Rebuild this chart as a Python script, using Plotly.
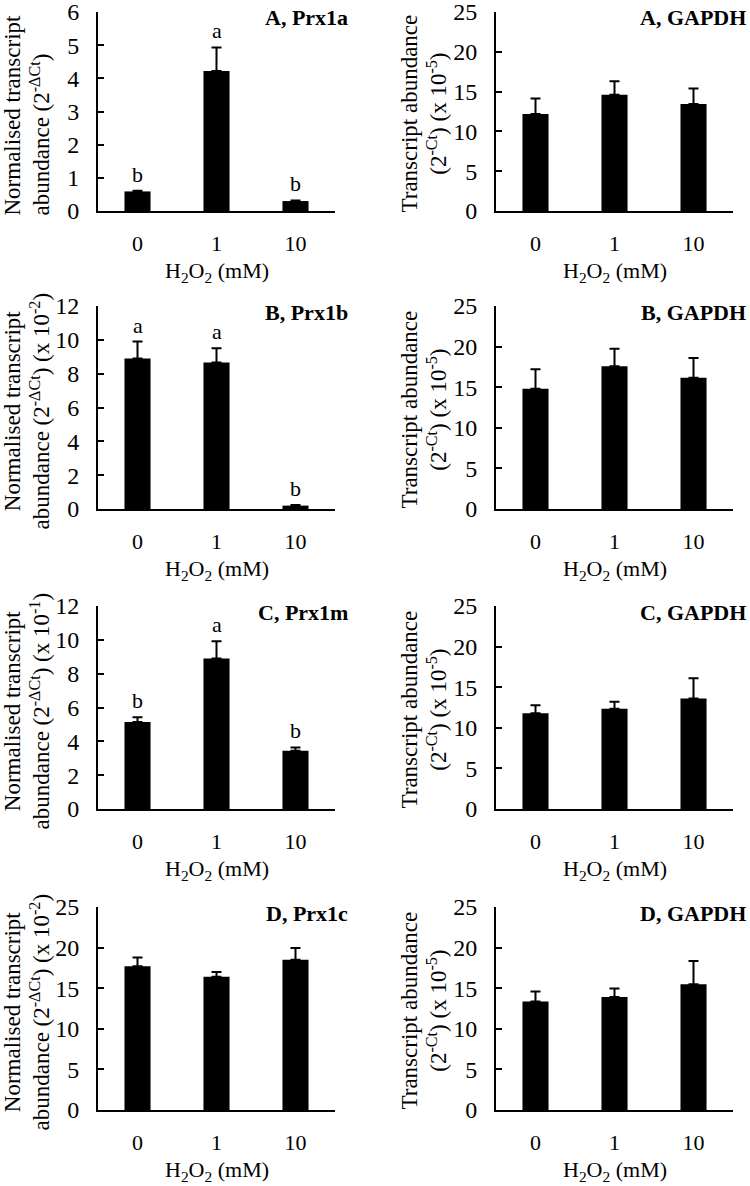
import plotly.graph_objects as go

# ---------------- data ----------------
categories = ["0", "1", "10"]

prx1a_mean = [0.59, 4.22, 0.30]
prx1a_err = [0.02, 0.71, 0.02]
prx1a_sig = ["b", "a", "b"]

gapdh_a_mean = [12.2, 14.6, 13.45]
gapdh_a_err = [1.93, 1.70, 1.94]

prx1b_mean = [8.90, 8.66, 0.20]
prx1b_err = [1.00, 0.84, 0.03]
prx1b_sig = ["a", "a", "b"]

gapdh_b_mean = [14.8, 17.58, 16.15]
gapdh_b_err = [2.40, 2.16, 2.45]

prx1m_mean = [5.15, 8.90, 3.44]
prx1m_err = [0.28, 1.02, 0.20]
prx1m_sig = ["b", "a", "b"]

gapdh_c_mean = [11.78, 12.35, 13.6]
gapdh_c_err = [1.00, 0.86, 2.50]

prx1c_mean = [17.7, 16.4, 18.5]
prx1c_err = [1.07, 0.60, 1.45]

gapdh_d_mean = [13.36, 13.93, 15.5]
gapdh_d_err = [1.22, 1.02, 2.85]

left_titles = [
    "Normalised transcript<br>abundance (2<sup>-ΔCt</sup>)",
    "Normalised transcript<br>abundance (2<sup>-ΔCt</sup>) (x 10<sup>-2</sup>)",
    "Normalised transcript<br>abundance (2<sup>-ΔCt</sup>) (x 10<sup>-1</sup>)",
    "Normalised transcript<br>abundance (2<sup>-ΔCt</sup>) (x 10<sup>-2</sup>)",
]
right_title = "Transcript abundance<br>(2<sup>-Ct</sup>) (x 10<sup>-5</sup>)"
x_title = "H<sub>2</sub>O<sub>2</sub> (mM)"

# panel definitions: (label, means, errs, letters, ymax, dtick, side, row)
panels = [
    ("A, Prx1a", prx1a_mean, prx1a_err, prx1a_sig, 6, 1, "L", 0),
    ("A, GAPDH", gapdh_a_mean, gapdh_a_err, None, 25, 5, "R", 0),
    ("B, Prx1b", prx1b_mean, prx1b_err, prx1b_sig, 12, 2, "L", 1),
    ("B, GAPDH", gapdh_b_mean, gapdh_b_err, None, 25, 5, "R", 1),
    ("C, Prx1m", prx1m_mean, prx1m_err, prx1m_sig, 12, 2, "L", 2),
    ("C, GAPDH", gapdh_c_mean, gapdh_c_err, None, 25, 5, "R", 2),
    ("D, Prx1c", prx1c_mean, prx1c_err, None, 25, 5, "L", 3),
    ("D, GAPDH", gapdh_d_mean, gapdh_d_err, None, 25, 5, "R", 3),
]

# ---------------- layout geometry (pixels) ----------------
W, H = 750, 1186
x_px = {"L": (98, 335), "R": (496, 733)}
row_px = [(12, 211), (306, 509), (606, 809), (907, 1110)]

FONT = "Liberation Serif, Times New Roman, serif"

fig = go.Figure()
layout = dict(
    template="none",
    width=W, height=H,
    margin=dict(l=0, r=0, t=0, b=0, pad=0),
    paper_bgcolor="white", plot_bgcolor="white",
    showlegend=False,
    font=dict(family=FONT, color="black"),
    annotations=[],
)

for i, (label, means, errs, sig, ymax, dtick, side, row) in enumerate(panels):
    n = i + 1
    xa = "x" if n == 1 else f"x{n}"
    ya = "y" if n == 1 else f"y{n}"
    fig.add_trace(go.Bar(
        x=categories, y=means, xaxis=xa, yaxis=ya,
        marker=dict(color="black", line=dict(width=0)),
        width=0.33,
        error_y=dict(type="data", symmetric=False, array=errs,
                     arrayminus=[0] * len(errs),
                     color="black", thickness=2, width=5),
        hoverinfo="skip",
    ))
    x0, x1 = x_px[side]
    t, b = row_px[row]
    xd = [x0 / W, x1 / W]
    yd = [1 - b / H, 1 - t / H]
    layout["xaxis" if n == 1 else f"xaxis{n}"] = dict(
        domain=xd, anchor=ya, type="category", range=[-0.5, 2.5],
        automargin=False,
        showline=True, linecolor="black", linewidth=2,
        ticks="", showgrid=False, zeroline=False,
        tickfont=dict(family=FONT, size=22, color="black"),
        ticklabelstandoff=12,
    )
    layout["yaxis" if n == 1 else f"yaxis{n}"] = dict(
        domain=yd, anchor=xa, range=[0, ymax], dtick=dtick, tick0=0,
        automargin=False, ticklabeloverflow="allow",
        showline=True, linecolor="black", linewidth=2,
        ticks="inside", ticklen=6, tickwidth=2, tickcolor="black",
        showgrid=False, zeroline=False,
        tickfont=dict(family=FONT, size=24, color="black"),
        ticklabelstandoff=12,
    )
    # panel label
    layout["annotations"].append(dict(
        text=f"<b>{label}</b>", xref="paper", yref="paper",
        x=(x1 + 15) / W, y=1 - (t + 6) / H, xanchor="right", yanchor="middle",
        showarrow=False, font=dict(family=FONT, size=22, color="black"),
    ))
    # x axis title
    layout["annotations"].append(dict(
        text=x_title, xref="paper", yref="paper",
        x=(x0 + x1) / 2 / W, y=1 - (b + 61) / H, xanchor="center", yanchor="middle",
        showarrow=False, font=dict(family=FONT, size=22, color="black"),
    ))
    # y axis title
    if side == "L":
        layout["annotations"].append(dict(
            text=left_titles[row], xref="paper", yref="paper",
            x=27 / W, y=1 - ((t + b) / 2 + 4) / H, xanchor="center", yanchor="middle",
            textangle=-90, align="left" if row == 0 else "center",
            showarrow=False, font=dict(family=FONT, size=23, color="black"),
        ))
    else:
        layout["annotations"].append(dict(
            text=right_title, xref="paper", yref="paper",
            x=424 / W, y=1 - ((t + b) / 2 + 2) / H, xanchor="center", yanchor="middle",
            textangle=-90, align="center",
            showarrow=False, font=dict(family=FONT, size=23, color="black"),
        ))
    # significance letters (x given as category index)
    if sig:
        for j, (m, e, s) in enumerate(zip(means, errs, sig)):
            layout["annotations"].append(dict(
                text=s, xref=xa, yref=ya, x=j, y=m + e,
                xanchor="center", yanchor="bottom", yshift=2,
                showarrow=False, font=dict(family=FONT, size=22, color="black"),
            ))

fig.update_layout(**layout)
fig.write_html("out.html", config={"displayModeBar": False},
               post_script="document.body.style.margin='0';")
